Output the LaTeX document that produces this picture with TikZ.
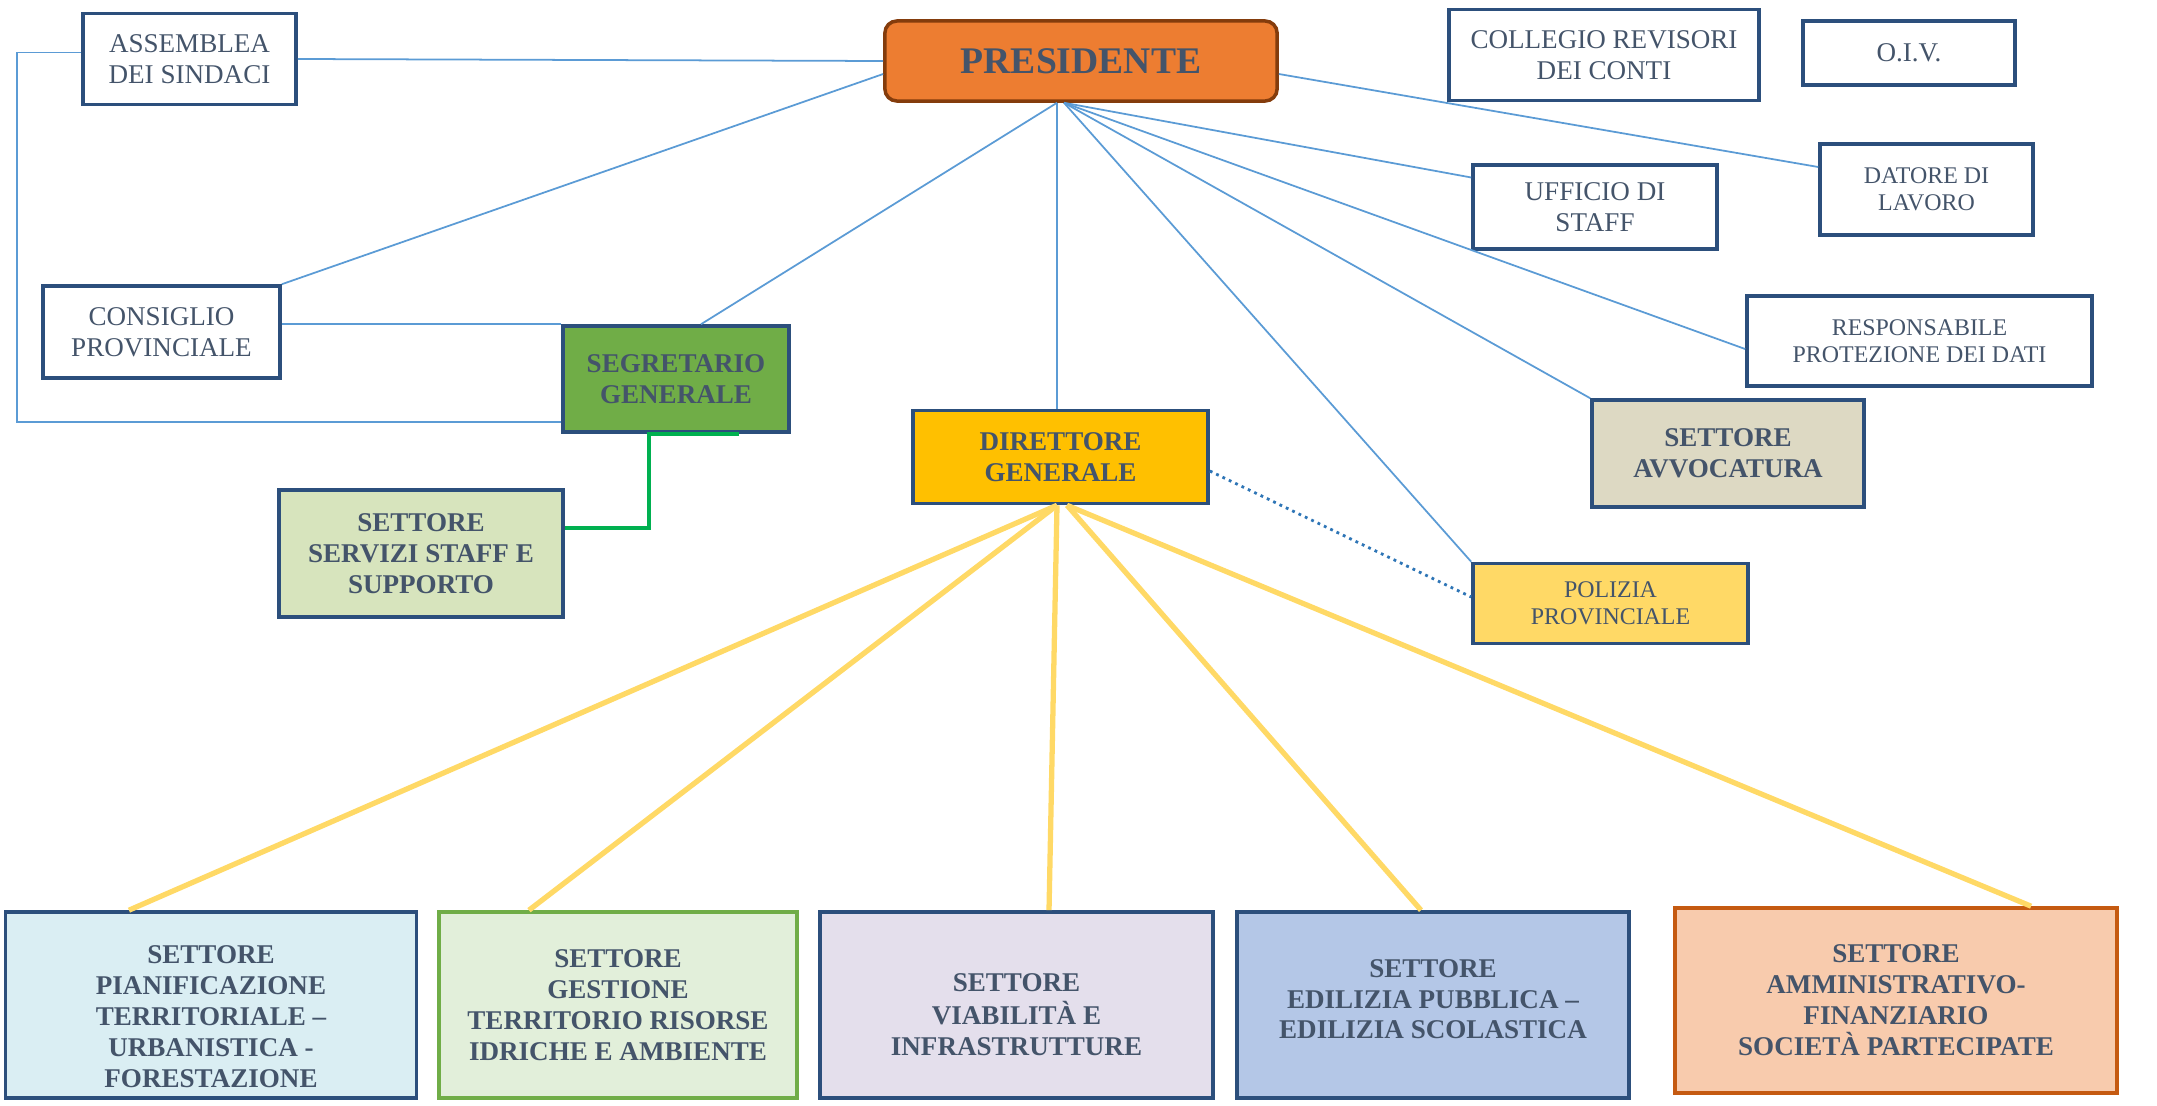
\documentclass[tikz,border=0pt]{standalone}
\usepackage{fontspec}
\setmainfont{Liberation Serif}
\usetikzlibrary{calc}
\definecolor{txtgray}{HTML}{44546A}
\definecolor{boxblue}{HTML}{2C4F7C}
\definecolor{linkblue}{HTML}{5B9BD5}
\definecolor{dotblue}{HTML}{2E75B6}
\definecolor{presorange}{HTML}{ED7D31}
\definecolor{presbrown}{HTML}{843C0C}
\definecolor{segrgreen}{HTML}{70AD47}
\definecolor{servgreen}{HTML}{D7E4BD}
\definecolor{staffgreen}{HTML}{00B050}
\definecolor{dirgold}{HTML}{FFC000}
\definecolor{avvbeige}{HTML}{DDD9C3}
\definecolor{polyellow}{HTML}{FFD966}
\definecolor{piancyan}{HTML}{DAEEF3}
\definecolor{gestgreen}{HTML}{E2EFDA}
\definecolor{viablilac}{HTML}{E4DFEC}
\definecolor{edilblue}{HTML}{B4C7E7}
\definecolor{ammpeach}{HTML}{F8CBAD}
\definecolor{ammorange}{HTML}{C55A11}
\def\orgfont{\fontsize{7.7}{8.8}\selectfont}
\def\smallorgfont{\fontsize{6.8}{7.8}\selectfont}
\def\presfont{\fontsize{10.7}{12}\selectfont\bfseries}
\def\lowered#1#2{\raisebox{#1}[0pt][0pt]{\begin{tabular}{@{}c@{}}#2\end{tabular}}}

\begin{document}
\begin{tikzpicture}[x=0.01cm, y=-0.01cm,
		org/.style={draw=boxblue, line width=1pt, inner sep=0pt, align=center, text=txtgray, font=\orgfont},
		orgb/.style={org, font=\orgfont\bfseries},
		orgs/.style={org, font=\smallorgfont},
		link/.style={draw=linkblue, line width=0.5pt},
		dotlink/.style={draw=dotblue, line width=0.8pt, dash pattern=on 0.8pt off 1.2pt},
		staffline/.style={draw=staffgreen, line width=1pt},
		sector/.style={draw=polyellow, line width=1.5pt}]
		%%%%% START %%%%%
		
		\useasboundingbox (0, 0) rectangle (2157, 1106);
		
		%%%%% top row %%%%%
		\node[org, minimum width=2.13cm, minimum height=0.91cm] (ass) at (189.5, 59) {ASSEMBLEA\\DEI SINDACI};
		\node[org, fill=presorange, draw=presbrown, rounded corners=0.12cm, minimum width=3.92cm, minimum height=0.8cm, font=\presfont] (pres) at (1081, 61) {PRESIDENTE};
		\node[org, minimum width=3.1cm, minimum height=0.91cm] (coll) at (1604, 55) {COLLEGIO REVISORI\\DEI CONTI};
		\node[org, minimum width=2.12cm, minimum height=0.64cm] (oiv) at (1909, 53) {O.I.V.};
		
		\node[org, minimum width=2.44cm, minimum height=0.84cm] (uff) at (1595, 207) {UFFICIO DI\\STAFF};
		\node[orgs, minimum width=2.13cm, minimum height=0.91cm] (dat) at (1926.5, 189.5) {DATORE DI\\LAVORO};
		
		%%%%% middle %%%%%
		\node[org, minimum width=2.37cm, minimum height=0.92cm] (cons) at (161.5, 332) {CONSIGLIO\\PROVINCIALE};
		\node[orgb, fill=segrgreen, minimum width=2.26cm, minimum height=1.06cm] (segr) at (676, 379) {SEGRETARIO\\GENERALE};
		\node[orgs, minimum width=3.45cm, minimum height=0.9cm] (resp) at (1919.5, 341) {RESPONSABILE\\PROTEZIONE DEI DATI};
		\node[orgb, fill=avvbeige, minimum width=2.72cm, minimum height=1.07cm] (avv) at (1728, 453.5) {SETTORE\\AVVOCATURA};
		\node[orgb, fill=dirgold, minimum width=2.95cm, minimum height=0.93cm] (dir) at (1060.5, 457) {DIRETTORE\\GENERALE};
		\node[orgb, fill=servgreen, minimum width=2.84cm, minimum height=1.27cm] (serv) at (421, 553.5) {SETTORE\\SERVIZI STAFF E\\SUPPORTO};
		\node[orgs, fill=polyellow, minimum width=2.75cm, minimum height=0.8cm] (pol) at (1610.5, 603.5) {POLIZIA\\PROVINCIALE};
		
		%%%%% settori %%%%%
		\node[orgb, fill=piancyan, minimum width=4.11cm, minimum height=1.86cm] (pian) at (211, 1005) {\lowered{-6.1pt}{SETTORE\\PIANIFICAZIONE\\TERRITORIALE --\\URBANISTICA -\\FORESTAZIONE}};
		\node[orgb, fill=gestgreen, draw=segrgreen, minimum width=3.58cm, minimum height=1.86cm] (gest) at (618, 1005) {SETTORE\\GESTIONE\\TERRITORIO RISORSE\\IDRICHE E AMBIENTE};
		\node[orgb, fill=viablilac, minimum width=3.93cm, minimum height=1.86cm] (viab) at (1016.5, 1005) {\lowered{-5.5pt}{SETTORE\\VIABILITÀ E\\INFRASTRUTTURE}};
		\node[orgb, fill=edilblue, minimum width=3.92cm, minimum height=1.86cm] (edil) at (1433, 1005) {\lowered{-1.1pt}{SETTORE\\EDILIZIA PUBBLICA --\\EDILIZIA SCOLASTICA}};
		\node[orgb, fill=ammpeach, draw=ammorange, minimum width=4.42cm, minimum height=1.85cm] (amm) at (1896, 1000.5) {SETTORE\\AMMINISTRATIVO-\\FINANZIARIO\\SOCIETÀ PARTECIPATE};
		
		%%%%% links from the president %%%%%
		\coordinate (hubL) at ([xshift=-0.24cm]pres.south);
		\coordinate (hubR) at ([xshift=-0.17cm]pres.south);
		
		\draw[link] (ass.east) -- (pres.west);
		\draw[link] ([yshift=0.065cm]ass.west) -- ++(-64, 0) |- ([yshift=0.12cm]segr.south west);
		\draw[link] (cons.north east) -- ([yshift=-0.13cm]pres.west);
		\draw[link] (segr.north west -| cons.east) -- (segr.north west);
		\draw[link] ([xshift=0.25cm]segr.north) -- (hubL);
		\draw[link] (hubL) -- (dir.north -| hubL);
		\draw[link] ([yshift=-0.13cm]pres.east) -- ([yshift=0.225cm]dat.west);
		\draw[link] (hubR) -- ([yshift=0.295cm]uff.west);
		\draw[link] (hubR) -- ([yshift=-0.08cm]resp.west);
		\draw[link] (hubR) -- (avv.north west);
		\draw[link] (hubR) -- (pol.north west);
		
		\draw[dotlink] ([yshift=-0.14cm]dir.east) -- ([yshift=0.065cm]pol.west);
		
		\draw[staffline] ([xshift=0.63cm]segr.south) -- ([xshift=-0.27cm]segr.south) |- ([yshift=0.255cm]serv.east);
		
		%%%%% links from the director %%%%%
		\coordinate (dirL) at ([xshift=-0.035cm]dir.south);
		\coordinate (dirR) at ([xshift=0.065cm]dir.south);
		
		\draw[sector] (dirL) -- ([xshift=-0.82cm]pian.north);
		\draw[sector] (dirL) -- ([xshift=-0.89cm]gest.north);
		\draw[sector] (dirL) -- ([xshift=0.325cm]viab.north);
		\draw[sector] (dirR) -- ([xshift=-0.12cm]edil.north);
		\draw[sector] (dirR) -- ([xshift=1.35cm]amm.north);
		
		%%%%% END %%%%%
	\end{tikzpicture}
\end{document}
